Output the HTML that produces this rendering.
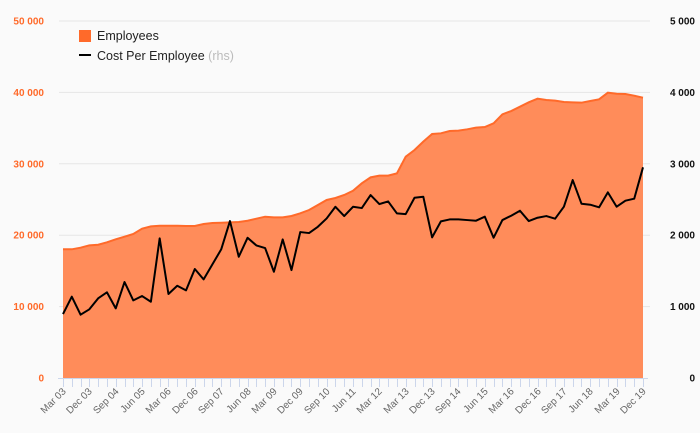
<!DOCTYPE html>
<html><head><meta charset="utf-8"><style>
html,body{margin:0;padding:0;background:#fafafa;}
svg{display:block;font-family:"Liberation Sans",sans-serif;}
</style></head><body>
<svg id="chart" width="700" height="433" viewBox="0 0 700 433">
<rect x="0" y="0" width="700" height="433" fill="#fafafa"/>
<g id="grid"></g>
<g id="area"></g>
<g id="line"></g>
<g id="xaxis"></g>
<g id="yleft"></g>
<g id="yright"></g>
<g>
<g>
<rect x="79" y="30" width="12" height="12" fill="#ff6a2a"/>
<text x="97" y="40" font-size="12.5" fill="#222">Employees</text>
</g>
<g>
<rect x="79" y="54" width="12" height="2" fill="#000"/>
<text x="97" y="60" font-size="12.5" fill="#222">Cost Per Employee <tspan fill="#bbb">(rhs)</tspan></text>
</g>
</g>
</svg>
<script>
const quarterNames = ["Mar","Jun","Sep","Dec"];
const categories = [];
for (let y = 3; y <= 19; y++) {
  for (let q = 0; q < 4; q++) {
    if (y === 12 && q === 1) continue;
    categories.push(quarterNames[q] + " " + String(y).padStart(2, "0"));
  }
}
const employees = [18025,18025,18250,18580,18670,19000,19420,19790,20170,20920,21240,21330,21330,21330,21290,21290,21570,21710,21750,21800,21850,22030,22310,22590,22500,22500,22690,23060,23530,24230,24930,25210,25630,26230,27260,
28100,28340,28340,28660,31000,31930,33100,34170,34270,34590,34640,34830,35060,35150,35670,36930,37390,38000,38610,39120,38940,38840,38660,38610,38560,38800,39030,39960,39820,39780,39540,39260];
const costPerEmployee = [896,1139,887,962,1116,1200,975,1344,1087,1148,1068,1956,1176,1292,1227,1526,1381,1591,1801,2198,1698,1964,1857,1820,1488,1941,1512,2044,2030,2118,2235,2398,2268,2398,2380,
2562,2436,2473,2305,2296,2525,2539,1970,2194,2221,2221,2212,2203,2259,1965,2212,2273,2343,2198,2245,2268,2231,2399,2772,2441,2427,2390,2600,2399,2483,2511,2951];
const leftTicks = [0,10000,20000,30000,40000,50000];
const rightTicks = [0,1000,2000,3000,4000,5000];

const NS = "http://www.w3.org/2000/svg";
const X0 = 63, X1 = 643, Y0 = 378, Y1 = 21;
const xPos = i => X0 + i * (X1 - X0) / (categories.length - 1);
const yLeft = v => Y0 - v * (Y0 - Y1) / 50000;
const yRight = v => Y0 - v * (Y0 - Y1) / 5000;
const fmt = v => v === 0 ? "0" : String(v).replace(/\B(?=(\d{3})+(?!\d))/g, " ");
function mk(tag, attrs, parent) {
  const e = document.createElementNS(NS, tag);
  for (const k in attrs) e.setAttribute(k, attrs[k]);
  parent.appendChild(e);
  return e;
}
const gridG = document.getElementById("grid");
leftTicks.forEach(t => {
  if (t === 0) return;
  const l = mk("line", {x1: 59, x2: 650, y1: yLeft(t), y2: yLeft(t), stroke: "#e6e6e6", "stroke-width": 1}, gridG);
  
  
});
const ylG = document.getElementById("yleft");
leftTicks.forEach(t => {
  const tx = mk("text", {x: 44, y: yLeft(t) + 3.5, "text-anchor": "end", "font-size": 10, "font-weight": "bold", fill: "#ff6a2a"}, ylG);
  tx.textContent = fmt(t);
  
  
});
const yrG = document.getElementById("yright");
rightTicks.forEach(t => {
  const tx = mk("text", {x: 695, y: yRight(t) + 3.5, "text-anchor": "end", "font-size": 10, "font-weight": "bold", fill: "#111"}, yrG);
  tx.textContent = fmt(t);
  
  
});
const areaG = document.getElementById("area");
let areaD = "M" + xPos(0) + "," + Y0;
employees.forEach((v, i) => { areaD += " L" + xPos(i).toFixed(2) + "," + yLeft(v).toFixed(2); });
areaD += " L" + xPos(employees.length - 1) + "," + Y0 + " Z";
const areaPath = mk("path", {d: areaD, fill: "#ff8c5a"}, areaG);


let topPath = "";
employees.forEach((v, i) => { topPath += (i ? " L" : "M") + xPos(i).toFixed(2) + "," + yLeft(v).toFixed(2); });
const topLine = mk("path", {d: topPath, fill: "none", stroke: "#ff6a2a", "stroke-width": 2}, areaG);


const lineG = document.getElementById("line");
let costD = "";
costPerEmployee.forEach((v, i) => { costD += (i ? " L" : "M") + xPos(i).toFixed(2) + "," + yRight(v).toFixed(2); });
const costLine = mk("path", {d: costD, fill: "none", stroke: "#000", "stroke-width": 2, "stroke-linejoin": "round"}, lineG);


const xaG = document.getElementById("xaxis");
const axl = mk("line", {x1: X0 - 5, x2: X1 + 5, y1: Y0 + 0.5, y2: Y0 + 0.5, stroke: "#ccd6eb", "stroke-width": 1}, xaG);


categories.forEach((c, i) => {
  const x = Math.round(xPos(i)) + 0.5;
  const tk = mk("line", {x1: x, x2: x, y1: Y0, y2: Y0 + 9, stroke: "#ccd6eb", "stroke-width": 1}, xaG);
  
  
  if (i % 3 === 0) {
    const tx = mk("text", {x: x + 3, y: Y0 + 14, "text-anchor": "end", "font-size": 10, fill: "#666", transform: "rotate(-45 " + (x + 3) + " " + (Y0 + 14) + ")"}, xaG);
    tx.textContent = c;
    
    
  }
});
</script>
</body></html>
